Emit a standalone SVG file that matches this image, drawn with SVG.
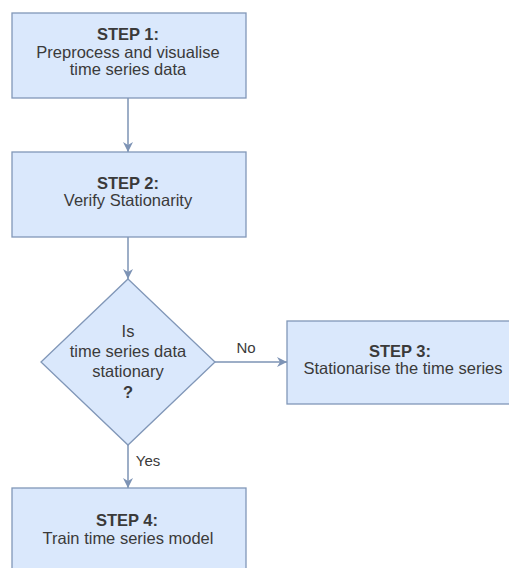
<svg xmlns="http://www.w3.org/2000/svg" width="509" height="568" viewBox="0 0 509 568">
<style>
.n{fill:#dae8fc;stroke:#8197b8;stroke-width:1.3}
.t{font-family:"Liberation Sans",Arial,sans-serif;font-size:16.5px;fill:#3a3a3a;text-anchor:middle}
.b{font-weight:bold}
.e{fill:none;stroke:#7d93b5;stroke-width:1.5}
</style>
<defs>
<marker id="ah" viewBox="0 0 10 10" refX="10" refY="5" markerWidth="10" markerHeight="10" markerUnits="userSpaceOnUse" orient="auto">
<path d="M0,0 L10,5 L0,10 L3,5 Z" fill="#7d93b5"/>
</marker>
</defs>
<rect width="509" height="568" fill="#ffffff"/>
<g id="connectors">
<line class="e" x1="128" y1="98" x2="128" y2="152" marker-end="url(#ah)"/>
<line class="e" x1="128" y1="237" x2="128" y2="279" marker-end="url(#ah)"/>
<line class="e" x1="215" y1="362" x2="287" y2="362" marker-end="url(#ah)"/>
<text class="t" x="246" y="353" style="font-size:15px">No</text>
<line class="e" x1="128" y1="445" x2="128" y2="488" marker-end="url(#ah)"/>
<text class="t" x="148" y="466" style="font-size:15px">Yes</text>
</g>
<g id="step1">
<rect class="n" x="12" y="13" width="234" height="85"/>
<text class="t b" x="128" y="40">STEP 1:</text>
<text class="t" x="128" y="58">Preprocess and visualise</text>
<text class="t" x="128" y="75">time series data</text>
</g>
<g id="step2">
<rect class="n" x="12" y="152" width="234" height="85"/>
<text class="t b" x="128" y="189">STEP 2:</text>
<text class="t" x="128" y="206">Verify Stationarity</text>
</g>
<g id="decision">
<polygon class="n" points="128,279 215,362 128,445 41,362"/>
<text class="t" x="128" y="337">Is</text>
<text class="t" x="128" y="357">time series data</text>
<text class="t" x="128" y="377">stationary</text>
<text class="t b" x="128" y="398">?</text>
</g>
<g id="step3">
<rect class="n" x="287" y="321" width="234" height="83"/>
<text class="t b" x="400" y="357">STEP 3:</text>
<text class="t" x="403" y="374">Stationarise the time series</text>
</g>
<g id="step4">
<rect class="n" x="12" y="488" width="234" height="90"/>
<text class="t b" x="127" y="526">STEP 4:</text>
<text class="t" x="128" y="544">Train time series model</text>
</g>
</svg>
